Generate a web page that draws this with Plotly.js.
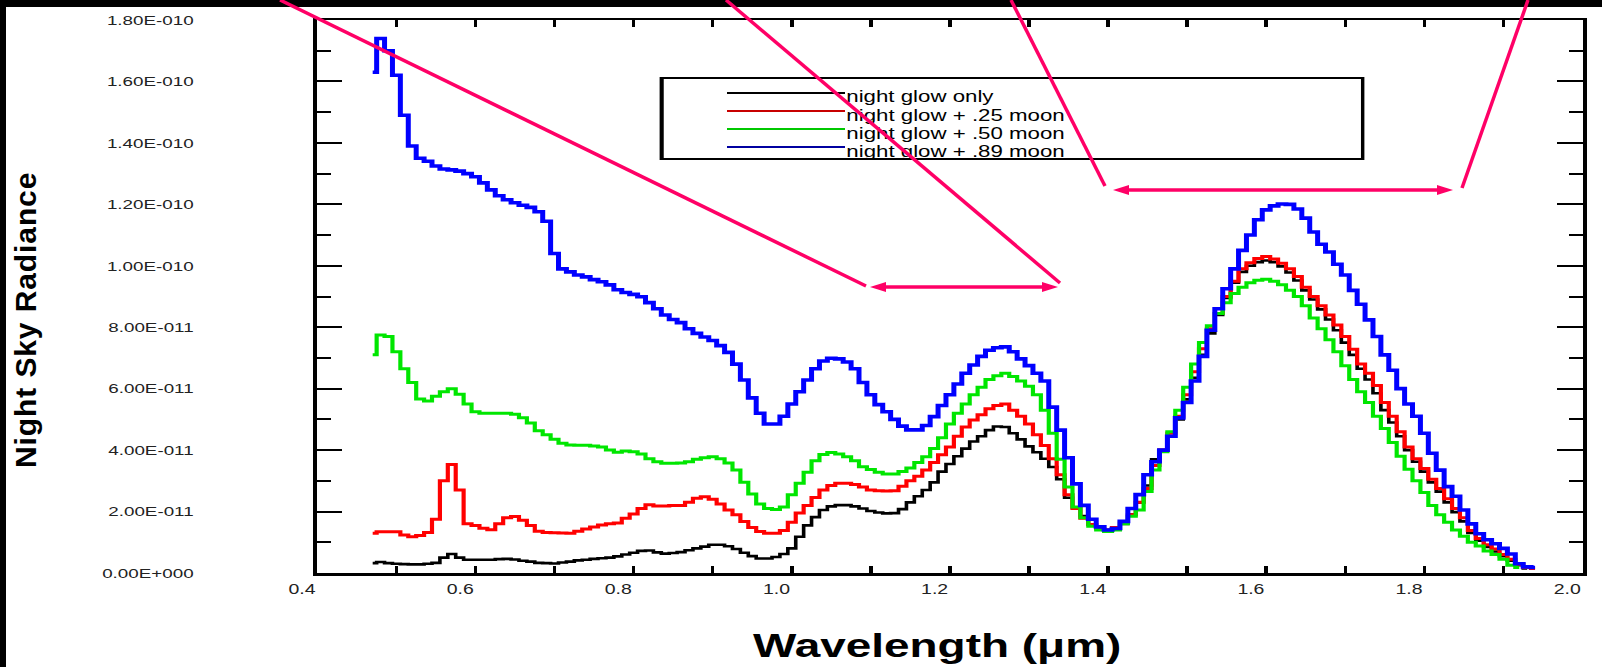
<!DOCTYPE html>
<html>
<head>
<meta charset="utf-8">
<script src="https://cdn.plot.ly/plotly-3.0.1.min.js"></script>
<style>
  html, body { margin: 0; padding: 0; background: #fff; }
  #stage { position: relative; width: 1602px; height: 667px; overflow: hidden; background: #fff; }
  /* the chart is laid out on a narrower canvas and widened horizontally */
  #chart { position: absolute; left: 0; top: 0; width: 1151px; height: 667px;
           transform-origin: 0 0; transform: scaleX(1.391833); }
  #overlay { position: absolute; left: 0; top: 0; width: 1602px; height: 667px; pointer-events: none; }
</style>
</head>
<body>
<div id="stage"><div id="chart"></div><div id="overlay"></div></div>
<script>
// ---------------- data ----------------
// wavelength grid, micrometres
const wavelength = [
  0.47,0.48,0.49,0.50,0.51,0.52,0.53,0.54,0.55,0.56,
  0.57,0.58,0.59,0.60,0.61,0.62,0.63,0.64,0.65,0.66,
  0.67,0.68,0.69,0.70,0.71,0.72,0.73,0.74,0.75,0.76,
  0.77,0.78,0.79,0.80,0.81,0.82,0.83,0.84,0.85,0.86,
  0.87,0.88,0.89,0.90,0.91,0.92,0.93,0.94,0.95,0.96,
  0.97,0.98,0.99,1.00,1.01,1.02,1.03,1.04,1.05,1.06,
  1.07,1.08,1.09,1.10,1.11,1.12,1.13,1.14,1.15,1.16,
  1.17,1.18,1.19,1.20,1.21,1.22,1.23,1.24,1.25,1.26,
  1.27,1.28,1.29,1.30,1.31,1.32,1.33,1.34,1.35,1.36,
  1.37,1.38,1.39,1.40,1.41,1.42,1.43,1.44,1.45,1.46,
  1.47,1.48,1.49,1.50,1.51,1.52,1.53,1.54,1.55,1.56,
  1.57,1.58,1.59,1.60,1.61,1.62,1.63,1.64,1.65,1.66,
  1.67,1.68,1.69,1.70,1.71,1.72,1.73,1.74,1.75,1.76,
  1.77,1.78,1.79,1.80,1.81,1.82,1.83,1.84,1.85,1.86,
  1.87,1.88,1.89,1.90,1.91,1.92,1.93,1.94
];

// radiance values in units of 1e-11
const nightGlowOnly = [
  0.32,0.36,0.32,0.3,0.29,0.28,0.28,0.3,0.33,0.5,
  0.62,0.5,0.43,0.43,0.43,0.43,0.45,0.46,0.44,0.4,
  0.37,0.33,0.32,0.31,0.34,0.37,0.41,0.43,0.46,0.48,
  0.5,0.54,0.6,0.66,0.72,0.73,0.67,0.63,0.65,0.68,
  0.74,0.8,0.86,0.92,0.92,0.87,0.78,0.66,0.55,0.47,
  0.47,0.52,0.62,0.8,1.18,1.55,1.82,2.05,2.17,2.21,
  2.21,2.17,2.1,2.02,1.97,1.94,1.95,2.08,2.3,2.5,
  2.7,2.95,3.3,3.55,3.8,4.05,4.28,4.45,4.65,4.77,
  4.75,4.55,4.35,4.12,3.93,3.72,3.45,3.05,2.45,2.12,
  1.85,1.58,1.45,1.4,1.47,1.6,1.9,2.3,2.85,3.7,
  4.0,4.45,5.0,5.65,6.35,7.1,7.8,8.4,8.95,9.45,
  9.8,10.0,10.12,10.17,10.12,9.98,9.78,9.52,9.2,8.9,
  8.58,8.25,7.9,7.5,7.1,6.65,6.3,5.85,5.3,4.9,
  4.45,4.0,3.62,3.3,2.95,2.65,2.3,1.98,1.68,1.3,
  1.05,0.85,0.7,0.55,0.4,0.25,0.15
];
const withQuarterMoon = [
  1.29,1.34,1.34,1.34,1.24,1.18,1.22,1.32,1.75,3.0,
  3.53,2.7,1.6,1.55,1.46,1.41,1.6,1.8,1.84,1.72,
  1.55,1.36,1.32,1.31,1.3,1.29,1.36,1.43,1.5,1.56,
  1.6,1.63,1.78,1.92,2.1,2.22,2.18,2.18,2.2,2.2,
  2.3,2.43,2.48,2.4,2.25,2.05,1.9,1.68,1.48,1.35,
  1.29,1.29,1.38,1.65,1.95,2.2,2.46,2.7,2.85,2.92,
  2.92,2.88,2.8,2.7,2.68,2.67,2.68,2.82,3.0,3.15,
  3.35,3.6,3.85,4.1,4.45,4.75,4.98,5.15,5.35,5.45,
  5.5,5.3,5.1,4.85,4.5,4.15,3.72,3.2,2.55,2.1,
  1.78,1.58,1.45,1.4,1.48,1.65,1.9,2.3,2.75,3.5,
  4.0,4.55,5.1,5.8,6.55,7.3,7.95,8.45,9.0,9.5,
  9.9,10.1,10.24,10.3,10.22,10.08,9.9,9.65,9.3,9.0,
  8.7,8.4,8.07,7.7,7.28,6.8,6.5,6.1,5.55,5.1,
  4.6,4.1,3.72,3.4,3.05,2.75,2.42,2.1,1.8,1.38,
  1.12,0.92,0.78,0.6,0.45,0.28,0.18,0.15
];
const withHalfMoon = [
  7.1,7.75,7.7,7.2,6.65,6.2,5.66,5.6,5.75,5.9,
  6.0,5.82,5.5,5.25,5.2,5.2,5.2,5.2,5.17,5.05,
  4.88,4.63,4.5,4.35,4.22,4.17,4.16,4.16,4.13,4.1,
  4.0,3.93,3.97,3.95,3.87,3.72,3.62,3.57,3.57,3.58,
  3.62,3.7,3.75,3.78,3.72,3.58,3.35,2.95,2.57,2.25,
  2.1,2.07,2.15,2.55,2.92,3.28,3.65,3.86,3.92,3.87,
  3.78,3.65,3.46,3.37,3.28,3.22,3.22,3.3,3.42,3.6,
  3.78,4.05,4.4,4.85,5.2,5.5,5.8,6.05,6.3,6.42,
  6.5,6.4,6.25,6.08,5.8,5.3,4.55,3.7,2.8,2.15,
  1.8,1.52,1.4,1.35,1.4,1.6,1.85,2.05,2.65,3.35,
  3.95,4.6,5.3,6.05,6.8,7.5,8.05,8.45,8.8,9.1,
  9.3,9.45,9.53,9.56,9.5,9.38,9.2,9.0,8.7,8.3,
  7.95,7.59,7.2,6.75,6.3,5.9,5.55,5.1,4.7,4.25,
  3.8,3.38,3.0,2.62,2.2,1.9,1.65,1.4,1.2,1.0,
  0.88,0.72,0.6,0.45,0.25,0.18
];
const withFullerMoon = [
  16.3,17.4,17.0,16.2,14.9,13.9,13.5,13.4,13.25,13.15,
  13.12,13.08,13.0,12.9,12.7,12.47,12.28,12.15,12.05,11.97,
  11.9,11.76,11.45,10.4,9.9,9.8,9.7,9.64,9.55,9.48,
  9.38,9.22,9.13,9.07,8.99,8.8,8.6,8.4,8.25,8.15,
  7.95,7.8,7.68,7.57,7.4,7.18,6.8,6.28,5.7,5.2,
  4.85,4.85,5.1,5.5,5.9,6.28,6.65,6.9,6.99,6.97,
  6.87,6.65,6.2,5.8,5.48,5.25,5.0,4.78,4.66,4.66,
  4.8,5.09,5.45,5.8,6.15,6.5,6.77,7.05,7.25,7.33,
  7.36,7.2,6.97,6.75,6.5,6.25,5.4,4.65,3.75,2.9,
  2.2,1.75,1.5,1.4,1.45,1.68,2.1,2.55,3.2,3.62,
  4.0,4.45,5.05,5.55,6.25,7.05,7.9,8.6,9.25,9.9,
  10.5,11.0,11.5,11.82,11.95,12.01,12.0,11.85,11.55,11.1,
  10.7,10.45,10.05,9.7,9.2,8.75,8.24,7.7,7.1,6.6,
  6.0,5.5,5.1,4.55,3.9,3.35,2.81,2.5,2.05,1.6,
  1.28,1.08,0.95,0.8,0.62,0.3,0.2,0.18
];
const RADIANCE_UNIT = 1e-11;

const seriesNames = ['night glow only', 'night glow + .25 moon', 'night glow + .50 moon', 'night glow + .89 moon'];
const yTickLabels = ['0.00E+000','2.00E-011','4.00E-011','6.00E-011','8.00E-011',
                     '1.00E-010','1.20E-010','1.40E-010','1.60E-010','1.80E-010'];

// ---------------- styles ----------------
const lineColors   = ['#000000', '#ff0000', '#00e600', '#0000ff'];
const keyColors    = ['#000000', '#c80000', '#00c800', '#0000a0'];
const lineWidths   = [2.6, 3, 3, 3.6];
const FONT = "'Liberation Sans', Arial, sans-serif";

// ---------------- main chart geometry ----------------
const W = 1151, H = 667, S = 1602 / W;
const M = {l: 228, r: 14, t: 20, b: 94};
const PW = W - M.l - M.r, PH = H - M.t - M.b;
const px = X => (X / S - M.l) / PW;      // page pixel -> paper x
const py = Y => (M.t + PH - Y) / PH;     // page pixel -> paper y

const series = [nightGlowOnly, withQuarterMoon, withHalfMoon, withFullerMoon];
const traces = series.map((vals, i) => ({
  type: 'scatter', mode: 'lines', name: seriesNames[i],
  x: wavelength.slice(0, vals.length),
  y: vals.map(v => v * RADIANCE_UNIT),
  line: {color: lineColors[i], width: lineWidths[i], shape: 'hvh'},
  showlegend: false, hoverinfo: 'skip'
}));

// key box with its entries
const keyRows = [93, 111, 129, 147];
const shapes = [
  {type: 'rect', xref: 'paper', yref: 'paper', x0: px(661), x1: px(1363), y0: py(159), y1: py(78),
   line: {color: '#000', width: 2}, fillcolor: 'rgba(0,0,0,0)'},
  {type: 'line', xref: 'paper', yref: 'paper', x0: px(662), x1: px(662), y0: py(159), y1: py(78),
   line: {color: '#000', width: 2.5}},
  {type: 'line', xref: 'paper', yref: 'paper', x0: px(1362), x1: px(1362), y0: py(159), y1: py(78),
   line: {color: '#000', width: 1.5}}
];
const annotations = [];
seriesNames.forEach((name, i) => {
  shapes.push({type: 'line', xref: 'paper', yref: 'paper',
    x0: px(727), x1: px(845), y0: py(keyRows[i]), y1: py(keyRows[i]),
    line: {color: keyColors[i], width: 2}});
  annotations.push({xref: 'paper', yref: 'paper', x: px(845), y: py(keyRows[i] + 4),
    xanchor: 'left', yanchor: 'middle', showarrow: false, borderpad: 0,
    text: name, font: {family: FONT, size: 16, color: '#000'}});
});
annotations.push({xref: 'paper', yref: 'paper', x: px(937), y: py(645),
  xanchor: 'center', yanchor: 'middle', showarrow: false,
  text: 'Wavelength (μm)', font: {family: FONT, size: 33, color: '#000', weight: 700}});

const layout = {
  width: W, height: H, margin: M,
  paper_bgcolor: '#fff', plot_bgcolor: '#fff',
  showlegend: false,
  xaxis: {
    range: [0.4, 2.0], tickmode: 'linear', tick0: 0.4, dtick: 0.2, tickformat: '.1f',
    ticks: 'inside', ticklen: 7, tickwidth: 2.5, tickcolor: '#000',
    minor: {ticks: 'inside', ticklen: 7, tickwidth: 2.5, tickcolor: '#000', tick0: 0.4, dtick: 0.1, showgrid: false},
    showline: true, linewidth: 2.5, linecolor: '#000', mirror: 'ticks',
    showgrid: false, zeroline: false,
    tickfont: {family: FONT, size: 14, color: '#222'},
    ticklabelshift: -11, ticklabelstandoff: 2
  },
  yaxis: {
    range: [0, 1.8e-10], tickmode: 'array',
    tickvals: yTickLabels.map(Number), ticktext: yTickLabels,
    ticks: 'inside', ticklen: 18, tickwidth: 2, tickcolor: '#000',
    minor: {ticks: 'inside', ticklen: 10, tickwidth: 2, tickcolor: '#000', tick0: 0, dtick: RADIANCE_UNIT, showgrid: false},
    showline: true, linewidth: 3.2, linecolor: '#000', mirror: 'ticks',
    showgrid: false, zeroline: false,
    tickfont: {family: FONT, size: 13.5, color: '#222'},
    ticklabelstandoff: 83
  },
  shapes: shapes,
  annotations: annotations
};

Plotly.newPlot('chart', traces, layout, {staticPlot: true, displayModeBar: false});

// ---------------- overlay: frame, axis caption and callouts ----------------
const OW = 1602, OH = 667;
const ox = X => X / OW, oy = Y => 1 - Y / OH;
const PINK = '#ff0066';

const oShapes = [
  {type: 'rect', xref: 'paper', yref: 'paper', x0: 0, x1: 1, y0: oy(7), y1: 1, fillcolor: '#000', line: {width: 0}},
  {type: 'rect', xref: 'paper', yref: 'paper', x0: 0, x1: ox(6), y0: 0, y1: 1, fillcolor: '#000', line: {width: 0}}
];
const segment = (x0, y0, x1, y1) => ({type: 'line', xref: 'paper', yref: 'paper',
  x0: ox(x0), y0: oy(y0), x1: ox(x1), y1: oy(y1), line: {color: PINK, width: 3.5}});
const head = (tipX, tipY, dir) => {
  const L = 16, HW = 5;
  const bx = tipX + dir * L;
  return {type: 'path', xref: 'paper', yref: 'paper', fillcolor: PINK, line: {width: 0},
    path: `M${ox(tipX)},${oy(tipY)} L${ox(bx)},${oy(tipY - HW)} L${ox(bx)},${oy(tipY + HW)} Z`};
};
// slanted pointers
oShapes.push(segment(280, 0, 866, 286));
oShapes.push(segment(726, 0, 1060, 283));
oShapes.push(segment(1011, 0, 1105, 186));
oShapes.push(segment(1528, 0, 1462, 188));
// double-headed spans
oShapes.push(segment(880, 287, 1048, 287), head(870, 287, 1), head(1058, 287, -1));
oShapes.push(segment(1123, 190, 1443, 190), head(1113, 190, 1), head(1453, 190, -1));

const oLayout = {
  width: OW, height: OH, margin: {l: 0, r: 0, t: 0, b: 0},
  paper_bgcolor: 'rgba(0,0,0,0)', plot_bgcolor: 'rgba(0,0,0,0)',
  xaxis: {visible: false, range: [0, 1]}, yaxis: {visible: false, range: [0, 1]},
  shapes: oShapes,
  annotations: [{xref: 'paper', yref: 'paper', x: ox(25), y: oy(320), textangle: -90,
    xanchor: 'center', yanchor: 'middle', showarrow: false,
    text: '<span style="letter-spacing:0.9px">Night Sky Radiance</span>',
    font: {family: FONT, size: 30, color: '#000', weight: 700}}]
};
Plotly.newPlot('overlay', [], oLayout, {staticPlot: true, displayModeBar: false});
</script>
</body>
</html>
